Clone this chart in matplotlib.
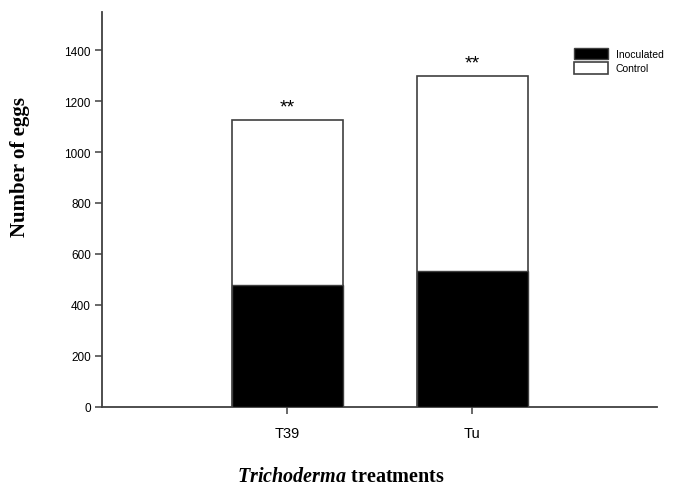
import matplotlib.pyplot as plt

plt.rcParams["mathtext.fontset"] = "custom"
plt.rcParams["mathtext.it"] = "Liberation Serif:italic:bold"
plt.rcParams["mathtext.rm"] = "Liberation Serif:bold"

# data
treatments = ["T39", "Tu"]
inoculated = [479, 534]
control = [1127, 1300]
signif = ["**", "**"]
y_ticks = [0, 200, 400, 600, 800, 1000, 1200, 1400]

fig = plt.figure(figsize=(6.81, 4.89), dpi=100)
ax = fig.add_axes([0.1498, 0.1663, 0.9648 - 0.1498, 0.9734 - 0.1663])

x = list(range(len(treatments)))
edge = "#404040"

# control bar behind, inoculated in front
ax.bar(x, control, width=0.6, color="white", edgecolor=edge, linewidth=1.2,
       label="Control", zorder=2)
ax.bar(x, inoculated, width=0.6, color="black", edgecolor=edge, linewidth=1.0,
       label="Inoculated", zorder=3)

for xi, top, s in zip(x, control, signif):
    ax.text(xi, top + 50, s, ha="center", va="center", fontsize=14,
            family="Liberation Sans")

ax.set_xlim(-1, 2)
ax.set_ylim(0, 1550)
ax.set_xticks(x)
ax.set_xticklabels(treatments, fontsize=10.5, family="Liberation Sans")
ax.set_yticks(y_ticks)
ax.set_yticklabels([str(v) for v in y_ticks], fontsize=8.5, family="Liberation Sans")

for side in ["top", "right"]:
    ax.spines[side].set_visible(False)
for side in ["left", "bottom"]:
    ax.spines[side].set_color(edge)
    ax.spines[side].set_linewidth(1.3)
ax.tick_params(axis="both", direction="out", length=5, width=1.1, color=edge)
ax.tick_params(axis="x", pad=9)
ax.tick_params(axis="y", pad=3)

# legend: inoculated first
handles, labels = ax.get_legend_handles_labels()
leg = ax.legend(handles[::-1], labels[::-1], loc="upper left",
                bbox_to_anchor=(0.843, 0.92), frameon=False,
                prop={"family": "Liberation Sans", "size": 7.5},
                handlelength=3.3, handleheight=1.3, handletextpad=0.7,
                labelspacing=0.3, borderaxespad=0)

# axis titles
fig.text(20 / 681, 1 - 167 / 489, "Number of eggs", rotation=90,
         ha="center", va="center", fontsize=15, fontweight="bold",
         family="Liberation Serif")
fig.text(341 / 681, 1 - 477 / 489, r"$\mathit{Trichoderma}$ treatments",
         ha="center", va="center", fontsize=14.5, fontweight="bold",
         family="Liberation Serif")

plt.savefig("out.png", dpi=100)
